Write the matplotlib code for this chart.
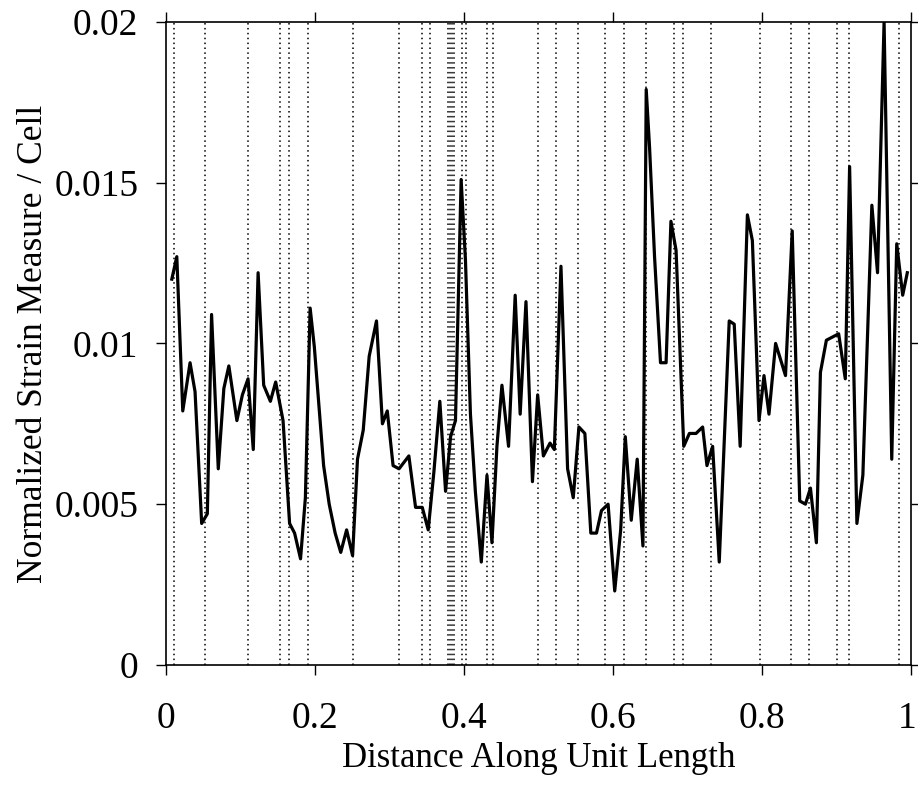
import matplotlib
matplotlib.use("Agg")
import matplotlib.pyplot as plt
import matplotlib.transforms as mtransforms

# ---- data ----
x_pos = [0.0076, 0.0143, 0.0223, 0.0321, 0.0388, 0.0477, 0.0553, 0.0610, 0.0700, 0.0775,
         0.0842, 0.0950, 0.1024, 0.1100, 0.1170, 0.1235, 0.1310, 0.1400, 0.1471, 0.1570,
         0.1658, 0.1725, 0.1805, 0.1870, 0.1934, 0.1990, 0.2115, 0.2190, 0.2270, 0.2345,
         0.2424, 0.2504, 0.2570, 0.2647, 0.2727, 0.2825, 0.2905, 0.2970, 0.3048, 0.3128,
         0.3260, 0.3350, 0.3440, 0.3520, 0.3596, 0.3676, 0.3753, 0.3820, 0.3886, 0.3962,
         0.4020, 0.4087, 0.4153, 0.4233, 0.4309, 0.4376, 0.4443, 0.4510, 0.4599, 0.4688,
         0.4755, 0.4833, 0.4920, 0.4990, 0.5067, 0.5156, 0.5214, 0.5303, 0.5392, 0.5468,
         0.5544, 0.5624, 0.5704, 0.5780, 0.5847, 0.5936, 0.6025, 0.6105, 0.6167, 0.6247,
         0.6327, 0.6404, 0.6448, 0.6493, 0.6560, 0.6640, 0.6715, 0.6780, 0.6849, 0.6952,
         0.7028, 0.7117, 0.7206, 0.7264, 0.7340, 0.7429, 0.7563, 0.7630, 0.7710, 0.7807,
         0.7874, 0.7963, 0.8030, 0.8097, 0.8186, 0.8319, 0.8409, 0.8510, 0.8587, 0.8654,
         0.8734, 0.8788, 0.8868, 0.9033, 0.9122, 0.9180, 0.9278, 0.9358, 0.9479, 0.9555,
         0.9643, 0.9746, 0.9813, 0.9893, 0.9955]
strain = [0.0120, 0.0127, 0.0079, 0.0094, 0.0085, 0.0044, 0.0047, 0.0109, 0.0061, 0.0086,
          0.0093, 0.0076, 0.0084, 0.0089, 0.0067, 0.0122, 0.0087, 0.0082, 0.0088, 0.0076,
          0.0044, 0.0041, 0.0033, 0.0052, 0.0111, 0.0099, 0.0062, 0.0050, 0.0041, 0.0035,
          0.0042, 0.0034, 0.0064, 0.0073, 0.0096, 0.0107, 0.0075, 0.0079, 0.0062, 0.0061,
          0.0065, 0.0049, 0.0049, 0.0042, 0.0060, 0.0082, 0.0054, 0.0071, 0.0076, 0.0151,
          0.0126, 0.0078, 0.0054, 0.0032, 0.0059, 0.0038, 0.0068, 0.0087, 0.0068, 0.0115,
          0.0078, 0.0113, 0.0057, 0.0084, 0.0065, 0.0069, 0.0067, 0.0124, 0.0061, 0.0052,
          0.0074, 0.0072, 0.0041, 0.0041, 0.0048, 0.0050, 0.0023, 0.0042, 0.0071, 0.0045,
          0.0064, 0.0037, 0.0179, 0.0161, 0.0127, 0.0094, 0.0094, 0.0138, 0.0129, 0.0068,
          0.0072, 0.0072, 0.0074, 0.0062, 0.0068, 0.0032, 0.0107, 0.0106, 0.0068, 0.0140,
          0.0132, 0.0076, 0.0090, 0.0078, 0.0100, 0.0090, 0.0135, 0.0051, 0.0050, 0.0055,
          0.0038, 0.0091, 0.0101, 0.0103, 0.0089, 0.0155, 0.0044, 0.0059, 0.0143, 0.0122,
          0.0200, 0.0064, 0.0131, 0.0115, 0.0122]

boundaries = [0.0107, 0.052, 0.110, 0.153, 0.165, 0.191, 0.251, 0.313, 0.344, 0.355,
              0.378, 0.381, 0.384, 0.387, 0.398, 0.403, 0.431, 0.439, 0.500, 0.524,
              0.553, 0.590, 0.615, 0.645, 0.682, 0.694, 0.732, 0.798, 0.839, 0.864,
              0.901, 0.917, 0.984]

x_ticks = [0, 0.2, 0.4, 0.6, 0.8, 1.0]
x_tick_labels = ["0", "0.2", "0.4", "0.6", "0.8", "1"]
y_ticks = [0, 0.005, 0.01, 0.015, 0.02]
y_tick_labels = ["0", "0.005", "0.01", "0.015", "0.02"]

plt.rcParams['font.family'] = ['Liberation Serif', 'DejaVu Serif']

fig = plt.figure(figsize=(9.18, 7.85), dpi=100)
ax = fig.add_axes([0.181, 0.153, 0.811, 0.819])

for b in boundaries:
    ax.axvline(b, color='black', linestyle=(0, (1, 2.2)), linewidth=1.1, zorder=1)

ax.plot(x_pos, strain, color='black', linewidth=2.3, zorder=3)

ax.set_xlim(0, 1)
ax.set_ylim(0, 0.02)
ax.set_xticks(x_ticks)
ax.set_xticklabels(x_tick_labels)
ax.set_yticks(y_ticks)
ax.set_yticklabels(y_tick_labels)
ax.tick_params(axis='both', direction='out', length=7, width=1.0, labelsize=27,
               top=True, right=True, labeltop=False, labelright=False)
ax.tick_params(axis='x', pad=19)
ax.tick_params(axis='y', pad=13)
for s in ax.spines.values():
    s.set_linewidth(1.2)

# nudge the last x tick label so it stays inside the figure
last = ax.get_xticklabels()[-1]
last.set_transform(last.get_transform() +
                   mtransforms.ScaledTranslation(-4 / 100, 0, fig.dpi_scale_trans))

ax.set_xlabel("Distance Along Unit Length", fontsize=25, labelpad=5)
ax.set_ylabel("Normalized Strain Measure / Cell", fontsize=25.5, labelpad=3)

fig.savefig("out.png", dpi=100)
